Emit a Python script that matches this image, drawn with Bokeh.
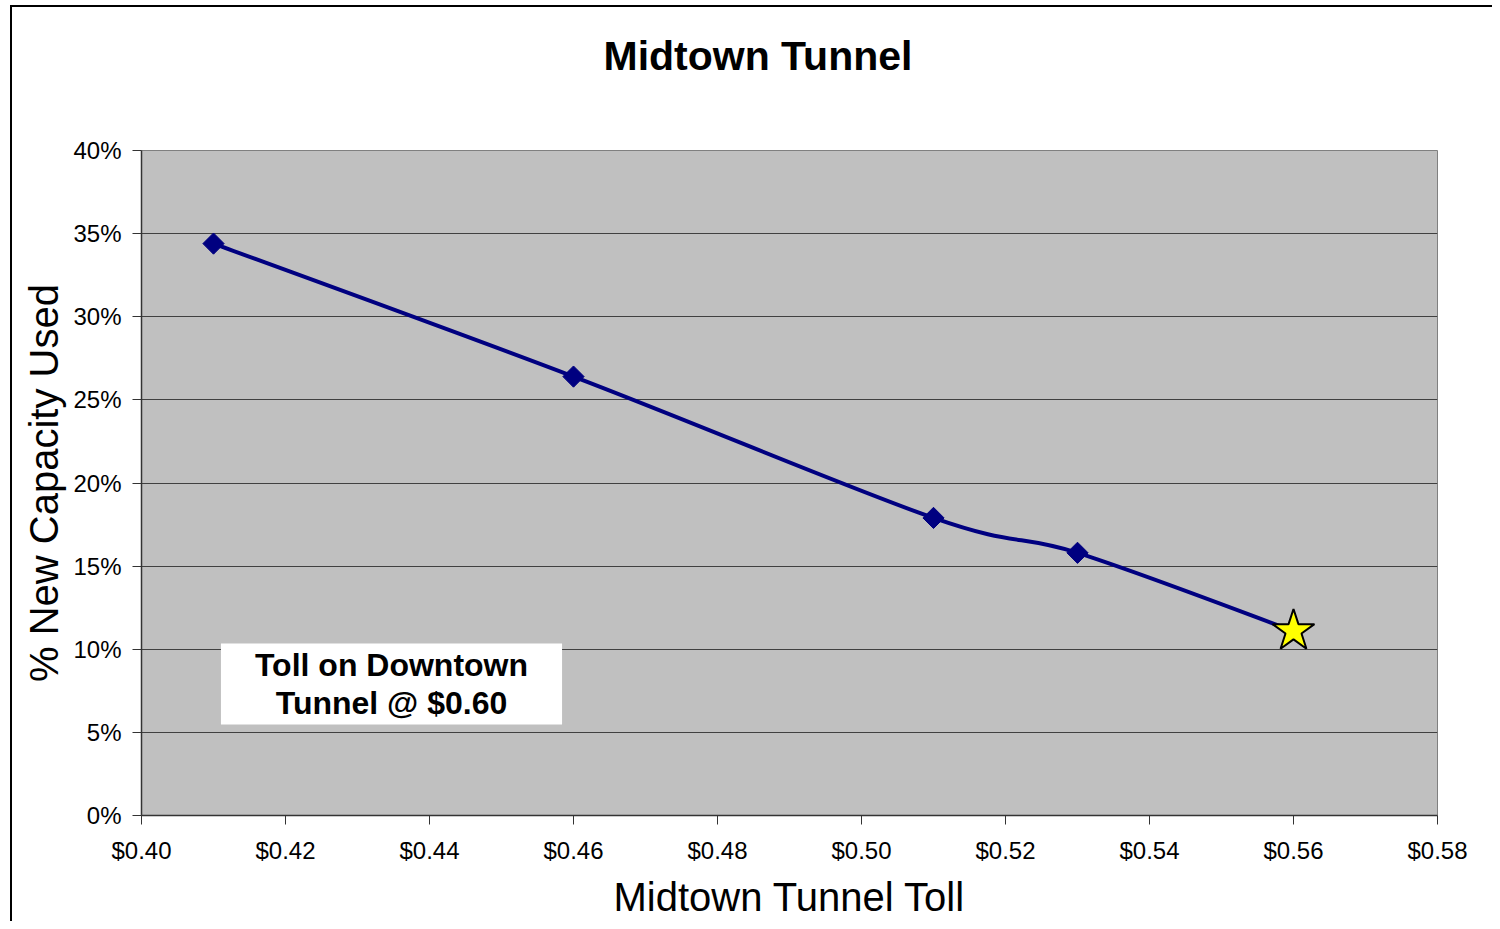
import numpy as np
from bokeh.plotting import figure
from bokeh.models import Range1d, NumeralTickFormatter, FixedTicker, Label, ColumnDataSource, Title
from bokeh.embed import file_html
from bokeh.resources import INLINE

# ---- data ----
toll = [0.41, 0.46, 0.51, 0.53, 0.56]
capacity = [0.344, 0.264, 0.179, 0.158, 0.111]
x_ticks = [0.40, 0.42, 0.44, 0.46, 0.48, 0.50, 0.52, 0.54, 0.56, 0.58]
y_ticks = [0.0, 0.05, 0.10, 0.15, 0.20, 0.25, 0.30, 0.35, 0.40]
title_text = "Midtown Tunnel"
x_title = "Midtown Tunnel Toll"
y_title = "% New Capacity Used"
note_text = "Toll on Downtown\nTunnel @ $0.60"

FONT = "Liberation Sans"

p = figure(width=1492, height=921, output_backend="svg", toolbar_location=None,
           x_range=Range1d(0.40, 0.58), y_range=Range1d(0.0, 0.40),
           min_border_left=141, min_border_right=55, min_border_top=150, min_border_bottom=106)
p.title_location = None
# outer chart-area border (left and top edges visible, as in the reference)
p.styles = {"background": "linear-gradient(#000,#000) 10px 5px / 2px calc(100% - 5px) no-repeat, "
                          "linear-gradient(#000,#000) 10px 5px / calc(100% - 10px) 2px no-repeat, white"}
p.border_fill_color = None
p.border_fill_alpha = 0

p.background_fill_color = "#C0C0C0"
p.outline_line_color = "#808080"
p.outline_line_width = 1

p.xgrid.grid_line_color = None
p.ygrid.grid_line_color = "#404040"
p.ygrid.grid_line_width = 1

p.xaxis.ticker = FixedTicker(ticks=x_ticks)
p.yaxis.ticker = FixedTicker(ticks=y_ticks)
p.xaxis.formatter = NumeralTickFormatter(format="$0.00")
p.yaxis.formatter = NumeralTickFormatter(format="0%")

for ax in (p.xaxis[0], p.yaxis[0]):
    ax.axis_line_color = "#333333"
    ax.axis_line_width = 1.5
    ax.major_tick_line_color = "#333333"
    ax.major_tick_line_width = 1
    ax.major_tick_out = 9
    ax.major_tick_in = 0
    ax.minor_tick_line_color = None
    ax.major_label_text_font = FONT
    ax.major_label_text_font_size = "24px"
    ax.major_label_text_color = "black"
    ax.axis_label_text_font = FONT
    ax.axis_label_text_font_style = "normal"
    ax.axis_label_text_font_size = "40px"
    ax.axis_label_text_color = "black"

p.xaxis.axis_label = x_title
p.yaxis.axis_label = y_title
p.xaxis.major_label_standoff = 12
p.xaxis.axis_label_standoff = 8
p.yaxis.major_label_standoff = 11
p.yaxis.axis_label_standoff = 4

# spacer between frame and title, then the chart title
p.add_layout(Title(text=" ", text_font=FONT, text_font_size="40px", standoff=21), "above")
p.add_layout(Title(text=title_text, text_font=FONT, text_font_style="bold",
                   text_font_size="41px", text_color="black",
                   align="left", offset=462, standoff=10), "above")

# smooth line through the data (Catmull-Rom style Bezier segments)
xs = np.array(toll)
ys = np.array(capacity)
n = len(xs)
x0, y0, x1, y1, cx0, cy0, cx1, cy1 = [], [], [], [], [], [], [], []
for i in range(n - 1):
    a = max(i - 1, 0)
    d = min(i + 2, n - 1)
    x0.append(xs[i]); y0.append(ys[i])
    x1.append(xs[i + 1]); y1.append(ys[i + 1])
    cx0.append(xs[i] + (xs[i + 1] - xs[a]) / 6.0)
    cy0.append(ys[i] + (ys[i + 1] - ys[a]) / 6.0)
    cx1.append(xs[i + 1] - (xs[d] - xs[i]) / 6.0)
    cy1.append(ys[i + 1] - (ys[d] - ys[i]) / 6.0)
bez = ColumnDataSource(dict(x0=x0, y0=y0, x1=x1, y1=y1, cx0=cx0, cy0=cy0, cx1=cx1, cy1=cy1))
p.bezier(x0="x0", y0="y0", x1="x1", y1="y1", cx0="cx0", cy0="cy0", cx1="cx1", cy1="cy1",
         source=bez, line_color="#000080", line_width=4)

# diamond markers
p.scatter(toll[:-1], capacity[:-1], marker="square", size=15, angle=np.pi / 4,
          fill_color="#000080", line_color="#000080")
# star marker for the last point
p.scatter([toll[-1]], [capacity[-1]], marker="star", size=44,
          fill_color="#FFFF00", line_color="black", line_width=2)

# note box
p.add_layout(Label(x=250, y=131.5, x_units="screen", y_units="screen", text=note_text,
                   text_font=FONT, text_font_style="bold", text_font_size="32px",
                   text_line_height=1.08,
                   text_align="center", text_baseline="middle", text_color="black",
                   background_fill_color="white",
                   padding=dict(left=34, right=34, top=3, bottom=3)))

open("out.html", "w").write(file_html(p, INLINE))
